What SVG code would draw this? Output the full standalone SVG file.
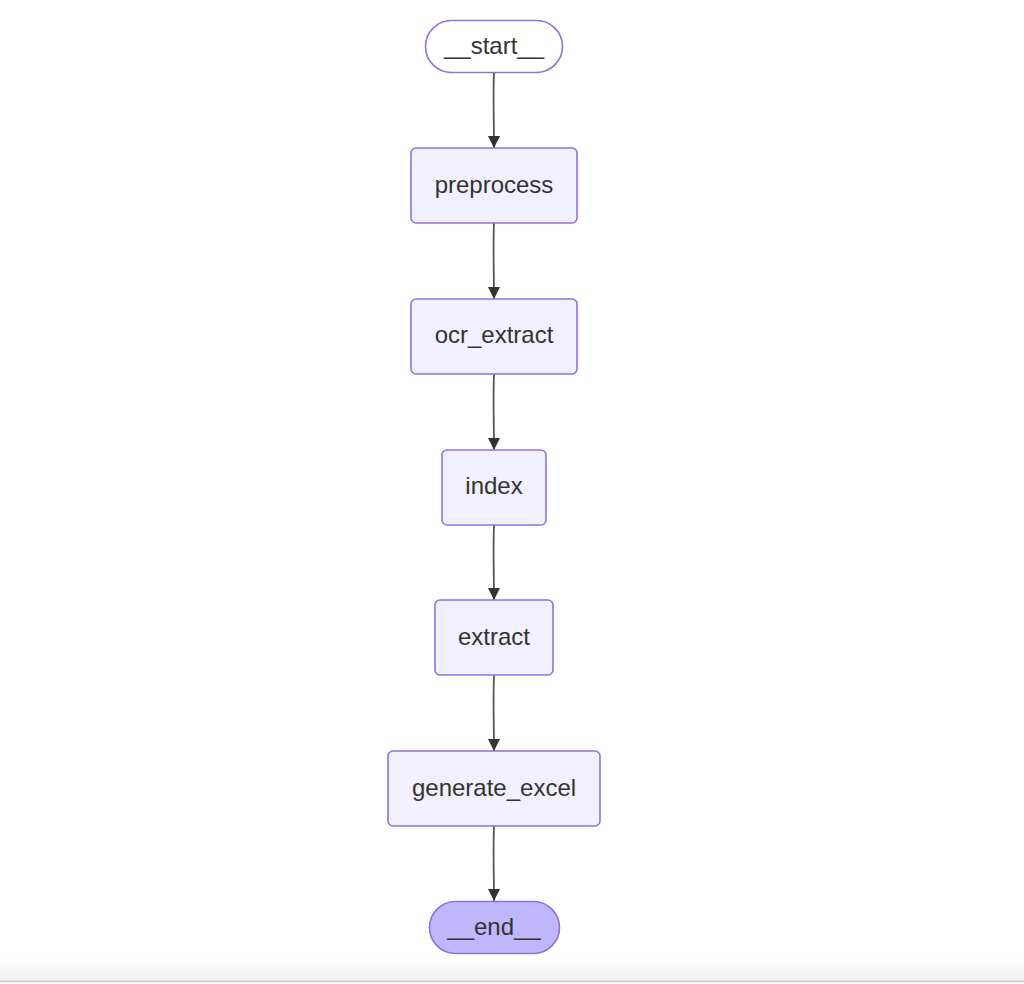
<svg xmlns="http://www.w3.org/2000/svg" width="1024" height="984" viewBox="0 0 1024 984">
<style>
.node{fill:#f2f0ff;stroke:#9370db;stroke-width:1.6}
.term{fill:#ffffff;stroke:#9370db;stroke-width:1.6}
.endn{fill:#bfb6fc;stroke:#9370db;stroke-width:1.6}
.lbl{font-family:"Liberation Sans",Arial,sans-serif;font-size:24px;fill:#333333;text-anchor:middle;dominant-baseline:central}
.edge{fill:none;stroke:#555555;stroke-width:1.8}
</style>
<defs>
<marker id="ah" viewBox="0 0 12 12" refX="12" refY="6" markerWidth="12" markerHeight="12" markerUnits="userSpaceOnUse" orient="auto">
<path d="M0,0 L12,6 L0,12 z" fill="#333333"/>
</marker>
<linearGradient id="bg" x1="0" y1="0" x2="0" y2="1">
<stop offset="0" stop-color="#ffffff"/>
<stop offset="1" stop-color="#efefef"/>
</linearGradient>
</defs>
<rect x="0" y="0" width="1024" height="984" fill="#ffffff"/>
<rect x="0" y="955" width="1024" height="26" fill="url(#bg)"/>
<line x1="0" y1="981.5" x2="1024" y2="981.5" stroke="#c8c8c8" stroke-width="1.5"/>
<g id="connectors">
<path class="edge" d="M494,72 C493,95 494,125 494,148" marker-end="url(#ah)"/>
<path class="edge" d="M494,223 C493,246 494,276 494,299" marker-end="url(#ah)"/>
<path class="edge" d="M494,374 C493,397 494,427 494,450" marker-end="url(#ah)"/>
<path class="edge" d="M494,525 C493,548 494,577 494,600" marker-end="url(#ah)"/>
<path class="edge" d="M494,675 C493,698 494,728 494,751" marker-end="url(#ah)"/>
<path class="edge" d="M494,826 C493,849 494,878 494,901" marker-end="url(#ah)"/>
</g>
<g id="start">
<rect class="term" x="425.5" y="20.5" width="137" height="52" rx="26" ry="26"/>
<text class="lbl" x="494" y="45.5">__start__</text>
</g>
<g id="preprocess">
<rect class="node" x="411" y="148" width="166" height="75" rx="5" ry="5"/>
<text class="lbl" x="494" y="184.5">preprocess</text>
</g>
<g id="ocr_extract">
<rect class="node" x="411" y="299" width="166" height="75" rx="5" ry="5"/>
<text class="lbl" x="494" y="334.5">ocr_extract</text>
</g>
<g id="index">
<rect class="node" x="442" y="450" width="104" height="75" rx="5" ry="5"/>
<text class="lbl" x="494" y="485.5">index</text>
</g>
<g id="extract">
<rect class="node" x="435" y="600" width="118" height="75" rx="5" ry="5"/>
<text class="lbl" x="494" y="636.5">extract</text>
</g>
<g id="generate_excel">
<rect class="node" x="388" y="751" width="212" height="75" rx="5" ry="5"/>
<text class="lbl" x="494" y="787.5">generate_excel</text>
</g>
<g id="end">
<rect class="endn" x="429.5" y="901.5" width="130" height="52" rx="26" ry="26"/>
<text class="lbl" x="494" y="926.5">__end__</text>
</g>
</svg>
